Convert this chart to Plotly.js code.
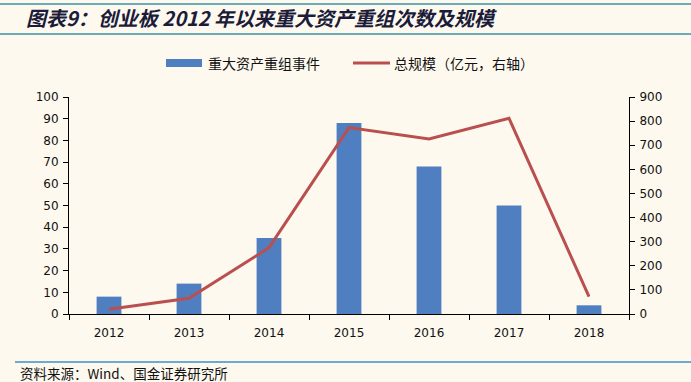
<!DOCTYPE html>
<html>
<head>
<meta charset="utf-8">
<script src="https://cdn.plot.ly/plotly-3.0.1.min.js"></script>
<style>
html,body{margin:0;padding:0;background:#FEF9EF;}
#chart{width:691px;height:382px;}
</style>
</head>
<body>
<div id="chart"></div>
<script>
const years = ["2012","2013","2014","2015","2016","2017","2018"];
const dealCounts = [8, 14, 35, 88, 68, 50, 4];
const totalScale = [20, 65, 275, 773, 726, 812, 72];
const leftTicks = [0,10,20,30,40,50,60,70,80,90,100];
const rightTicks = [0,100,200,300,400,500,600,700,800,900];
const barName = "重大资产重组事件";
const lineName = "总规模（亿元，右轴）";
const titleText = "图表9：创业板 2012 年以来重大资产重组次数及规模";
const sourceText = "资料来源：Wind、国金证券研究所";

const W = 691, H = 382;
const L = 69, R = 62, T = 97, B = 68;
const pw = W - L - R, ph = H - T - B;
const px = x => (x - L) / pw;
const py = y => (H - B - y) / ph;

const tickFont = {family: "DejaVu Sans, Verdana, sans-serif", size: 12, color: "#111"};
const cjk = "Noto Sans CJK SC, sans-serif";

const data = [
  {type: "bar", x: years, y: dealCounts, name: barName, marker: {color: "#4F7FC0"}, width: 0.31, yaxis: "y", showlegend: false},
  {type: "scatter", mode: "lines", x: years, y: totalScale, name: lineName, line: {color: "#B9504F", width: 3}, yaxis: "y2", showlegend: false}
];

const layout = {
  width: W, height: H,
  margin: {l: L, r: R, t: T, b: B},
  paper_bgcolor: "#FEF9EF", plot_bgcolor: "#FEF9EF",
  showlegend: false,
  xaxis: {type: "category", showline: true, linecolor: "#000", linewidth: 1, ticks: "outside", ticklen: 5, tickcolor: "#000", tickson: "boundaries", showgrid: false, zeroline: false, tickfont: tickFont, ticklabelstandoff: 8},
  yaxis: {range: [0, 100], tickvals: leftTicks, showline: true, linecolor: "#000", linewidth: 1, ticks: "outside", ticklen: 5, tickcolor: "#000", showgrid: false, zeroline: false, tickfont: tickFont, ticklabelstandoff: 2},
  yaxis2: {range: [0, 900], tickvals: rightTicks, overlaying: "y", side: "right", showline: true, linecolor: "#000", linewidth: 1, ticks: "outside", ticklen: 5, tickcolor: "#000", showgrid: false, zeroline: false, tickfont: tickFont, ticklabelstandoff: 2},
  shapes: [
    {type: "line", xref: "paper", yref: "paper", x0: px(0), x1: px(W), y0: py(4), y1: py(4), line: {color: "#3A8FA3", width: 1.5}},
    {type: "line", xref: "paper", yref: "paper", x0: px(0), x1: px(W), y0: py(34), y1: py(34), line: {color: "#3A8FA3", width: 1.5}},
    {type: "line", xref: "paper", yref: "paper", x0: px(15), x1: px(W), y0: py(362), y1: py(362), line: {color: "#3C8FC4", width: 1.5}},
    {type: "rect", xref: "paper", yref: "paper", x0: px(166), x1: px(202), y0: py(59), y1: py(67), fillcolor: "#4F7FC0", line: {width: 0}},
    {type: "line", xref: "paper", yref: "paper", x0: px(353), x1: px(390), y0: py(63), y1: py(63), line: {color: "#B9504F", width: 3}}
  ],
  annotations: [
    {xref: "paper", yref: "paper", x: px(24), y: py(18), xanchor: "left", yanchor: "middle", showarrow: false, text: "<b><i>" + titleText + "</i></b>", font: {family: cjk, size: 20, color: "#1B1B3A"}},
    {xref: "paper", yref: "paper", x: px(206), y: py(63), xanchor: "left", yanchor: "middle", showarrow: false, text: barName, font: {family: cjk, size: 14, color: "#111"}},
    {xref: "paper", yref: "paper", x: px(392), y: py(63), xanchor: "left", yanchor: "middle", showarrow: false, text: lineName, font: {family: cjk, size: 14, color: "#111"}},
    {xref: "paper", yref: "paper", x: px(18), y: py(373), xanchor: "left", yanchor: "middle", showarrow: false, text: sourceText, font: {family: cjk, size: 13.5, color: "#111"}}
  ]
};

Plotly.newPlot("chart", data, layout, {displayModeBar: false, staticPlot: true});
</script>
</body>
</html>
